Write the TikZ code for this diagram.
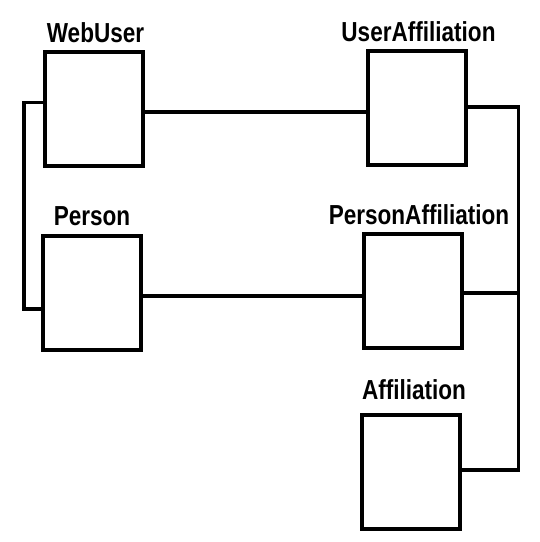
\documentclass[tikz,border=0pt]{standalone}
\usepackage{fontspec}
\setmainfont{Liberation Sans}[FakeStretch=0.82]
\begin{document}
\begin{tikzpicture}[x=1pt,y=-1pt,
  entity/.style={draw=black,line width=4pt,minimum width=98pt,minimum height=114pt,inner sep=0pt,fill=white},
  lbl/.style={anchor=base,inner sep=0pt,font=\bfseries\fontsize{27.5}{30}\selectfont},
  conn/.style={draw=black,line width=3.7pt}]
\useasboundingbox (0,0) rectangle (540,542);
\fill[white] (0,0) rectangle (540,542);
% boxes
\node[entity] (webuser) at (94,109) {};
\node[entity] (person) at (92,292.5) {};
\node[entity] (useraff) at (416.5,108) {};
\node[entity] (personaff) at (413,291) {};
\node[entity] (aff) at (411,471.5) {};
% labels
\node[lbl] (lwebuser) at (95.5,42.5) {WebUser};
\node[lbl] (luseraff) at (418.5,41.5) {UserAffiliation};
\node[lbl] (lperson) at (92,225) {Person};
\node[lbl] (lpersonaff) at (419,224) {PersonAffiliation};
\node[lbl] (laff) at (414,399) {Affiliation};
% junction coordinates
\coordinate (lt) at (24,102.5);
\coordinate (lb) at (24,309);
\coordinate (rt) at (518.5,107);
\coordinate (rm) at (518.5,293);
\coordinate (rb) at (518.5,470);
% connectors
\draw[conn] (webuser.east |- 0,112) -- (useraff.west |- 0,112);
\draw[conn] (person.east |- 0,296) -- (personaff.west |- 0,296);
\draw[conn] (webuser.west |- lt) -- (lt) -- (lb) -- (person.west |- lb);
\draw[conn] (useraff.east |- rt) -- (rt) -- (rb) -- (aff.east |- rb);
\draw[conn] (personaff.east |- rm) -- (rm);
\end{tikzpicture}
\end{document}
